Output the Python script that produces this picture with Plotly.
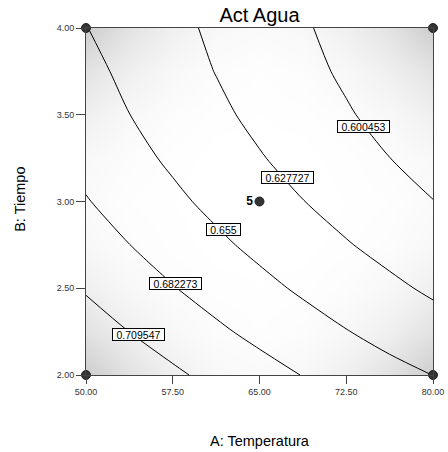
import plotly.graph_objects as go

# ---- data ----
temperatura = [50.0, 53.75, 57.5, 61.25, 65.0, 68.75, 72.5, 76.25, 80.0]
tiempo = [2.0, 2.25, 2.5, 2.75, 3.0, 3.25, 3.5, 3.75, 4.0]

# Act Agua response estimated on the grid (rows = tiempo, cols = temperatura)
act_agua = [
    [0.7377, 0.7255, 0.7138, 0.7025, 0.6918, 0.6816, 0.6719, 0.6626, 0.6548],
    [0.7216, 0.7094, 0.6977, 0.6865, 0.6758, 0.6656, 0.6559, 0.6467, 0.6381],
    [0.7072, 0.6950, 0.6834, 0.6722, 0.6616, 0.6514, 0.6417, 0.6326, 0.6239],
    [0.6946, 0.6825, 0.6708, 0.6597, 0.6491, 0.6389, 0.6293, 0.6202, 0.6116],
    [0.6837, 0.6716, 0.6600, 0.6489, 0.6383, 0.6282, 0.6186, 0.6095, 0.6009],
    [0.6746, 0.6625, 0.6510, 0.6399, 0.6293, 0.6193, 0.6097, 0.6006, 0.5920],
    [0.6672, 0.6552, 0.6436, 0.6326, 0.6220, 0.6120, 0.6025, 0.5934, 0.5849],
    [0.6616, 0.6496, 0.6381, 0.6271, 0.6166, 0.6066, 0.5971, 0.5881, 0.5795],
    [0.6555, 0.6457, 0.6342, 0.6233, 0.6128, 0.6028, 0.5933, 0.5844, 0.5759],
]

# background shading (standard-error darkness, 0 = white, 1 = darkest)
shade = [
    [1.00, 0.58, 0.31, 0.15, 0.10, 0.15, 0.31, 0.58, 1.00],
    [0.58, 0.32, 0.15, 0.06, 0.03, 0.06, 0.15, 0.32, 0.58],
    [0.31, 0.15, 0.06, 0.02, 0.01, 0.02, 0.06, 0.15, 0.31],
    [0.15, 0.06, 0.02, 0.00, 0.00, 0.00, 0.02, 0.06, 0.15],
    [0.10, 0.03, 0.01, 0.00, 0.00, 0.00, 0.01, 0.03, 0.10],
    [0.15, 0.06, 0.02, 0.00, 0.00, 0.00, 0.02, 0.06, 0.15],
    [0.31, 0.15, 0.06, 0.02, 0.01, 0.02, 0.06, 0.15, 0.31],
    [0.58, 0.32, 0.15, 0.06, 0.03, 0.06, 0.15, 0.32, 0.58],
    [1.00, 0.58, 0.31, 0.15, 0.10, 0.15, 0.31, 0.58, 1.00],
]

contour_levels = [0.600453, 0.627727, 0.655, 0.682273, 0.709547]
level_labels = ["0.600453", "0.627727", "0.655", "0.682273", "0.709547"]

design_temp = [50, 80, 50, 80, 65]
design_time = [2, 2, 4, 4, 3]
design_text = ["", "", "", "", "5"]

x_ticks = [50, 57.5, 65, 72.5, 80]
y_ticks = [2.0, 2.5, 3.0, 3.5, 4.0]

# label anchor positions (temperatura, tiempo) for the contour value boxes
label_anchor = [(73.96, 3.435), (67.42, 3.138), (61.89, 2.839), (57.74, 2.530), (54.50, 2.233)]

FONT = "Liberation Sans, Arial, sans-serif"

fig = go.Figure()

fig.add_trace(go.Heatmap(
    x=temperatura, y=tiempo, z=shade, zmin=0, zmax=1, zsmooth="best",
    colorscale=[[0, "rgb(255,255,255)"], [1, "rgb(205,205,205)"]],
    showscale=False, hoverinfo="skip",
))

step = (contour_levels[-1] - contour_levels[0]) / (len(contour_levels) - 1)
fig.add_trace(go.Contour(
    x=temperatura, y=tiempo, z=act_agua,
    contours=dict(start=contour_levels[0], end=contour_levels[-1] + step / 2,
                  size=step, coloring="none", showlabels=False),
    line=dict(color="black", width=1, smoothing=0.8),
    showscale=False, hoverinfo="skip",
))

fig.add_trace(go.Scatter(
    x=design_temp, y=design_time, mode="markers+text",
    text=design_text, textposition="middle left",
    textfont=dict(family=FONT, size=12, color="black", weight="bold"),
    marker=dict(size=9, color="#333333", line=dict(color="#222222", width=1)),
    cliponaxis=False, showlegend=False, hoverinfo="skip",
))

for (ax_, ay_), txt in zip(label_anchor, level_labels):
    fig.add_annotation(
        x=ax_, y=ay_, xref="x", yref="y", text=txt, showarrow=False,
        font=dict(family=FONT, size=10.5, color="black"),
        bgcolor="white", bordercolor="black", borderwidth=1, borderpad=0,
        width=len(txt) * 6 + 3, height=11,
    )

fig.add_annotation(x=0.5, y=-0.19, xref="paper", yref="paper", text="A: Temperatura",
                   showarrow=False, font=dict(family=FONT, size=14.5, color="black"),
                   yanchor="middle")
fig.add_annotation(x=-0.19, y=0.505, xref="paper", yref="paper", text="B: Tiempo",
                   showarrow=False, textangle=-90, font=dict(family=FONT, size=14.5, color="black"),
                   xanchor="center", yanchor="middle")

axis_common = dict(showgrid=False, zeroline=False, showline=True, linecolor="#444444",
                   linewidth=1, mirror=True, ticks="outside", tickcolor="#444444",
                   automargin=False,
                   tickformat=".2f", tickfont=dict(family=FONT, size=9, color="#333333"))

fig.update_layout(
    width=448, height=452, autosize=False,
    margin=dict(l=86, r=15, t=28, b=77),
    paper_bgcolor="white", plot_bgcolor="white",
    showlegend=False,
    title=dict(text="Act Agua", x=0.5, xref="paper", xanchor="center",
               y=1 - 15 / 452, yref="container", yanchor="middle",
               font=dict(family=FONT, size=20, color="black")),
    xaxis=dict(range=[50, 80], tickvals=x_ticks, ticklen=8, **axis_common),
    yaxis=dict(range=[2, 4], tickvals=y_ticks, ticklen=9, **axis_common),
)

fig.write_html(
    "out.html",
    config={"responsive": False, "displayModeBar": False},
    post_script="document.body.style.margin='0px';document.body.style.overflow='hidden';",
)
